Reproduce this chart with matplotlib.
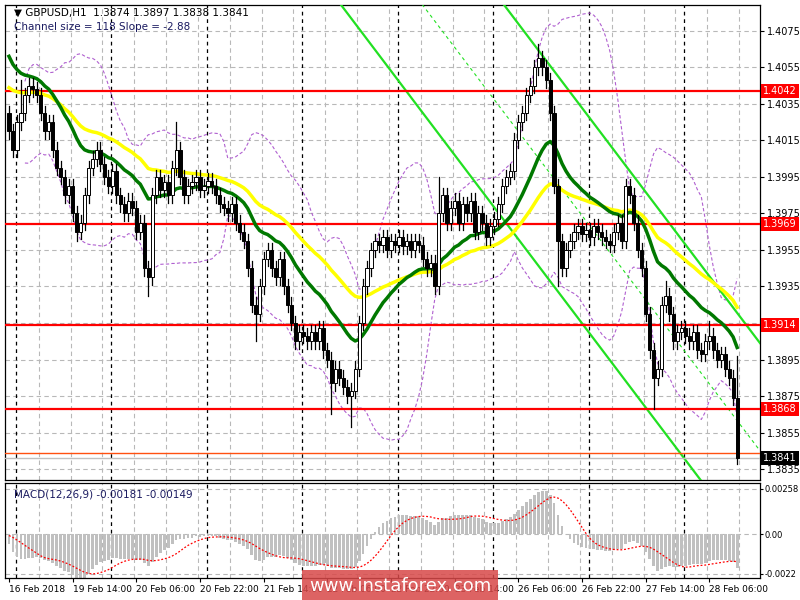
import numpy as np
import pandas as pd
import matplotlib
matplotlib.use("Agg")
import matplotlib.pyplot as plt
from matplotlib.patches import Rectangle

closes = [1.4020,1.4010,1.4025,1.4030,1.4040,1.4045,1.4043,1.4040,1.4030,1.4020,1.4025,1.4010,1.4000,1.3995,1.3985,1.3990,1.3975,1.3965,1.3970,
          1.3985,1.4000,1.4005,1.4010,1.4002,1.3995,1.3990,1.3998,1.3985,1.3980,1.3975,1.3982,1.3978,1.3965,1.3970,1.3945,
          1.3940,1.3985,1.3995,1.3988,1.3992,1.3985,1.4000,1.4010,1.3995,1.3985,1.3990,1.3992,1.3995,1.3988,1.3990,1.3993,1.3990,1.3985,1.3980,1.3978,1.3975,1.3980,1.3970,1.3965,1.3960,
          1.3945,1.3925,1.3920,1.3935,1.3950,1.3955,1.3945,1.3940,1.3950,1.3935,1.3925,1.3915,1.3905,1.3910,
          1.3908,1.3905,1.3910,1.3905,1.3912,1.3900,1.3895,1.3882,1.3890,1.3885,1.3880,1.3875,1.3878,1.3890,
          1.3915,1.3935,1.3945,1.3955,
          1.3960,1.3958,1.3962,1.3955,1.3960,1.3958,1.3962,1.3957,1.3960,1.3955,1.3960,1.3958,1.3950,1.3945,1.3948,1.3935,
          1.3975,1.3985,1.3970,1.3978,1.3982,1.3970,1.3980,1.3975,1.3982,1.3965,1.3975,1.3970,1.3962,1.3968,1.3972,1.3980,
          1.3990,1.3995,1.3998,1.4015,1.4025,1.4030,1.4040,1.4045,
          1.4055,1.4060,1.4055,1.4048,
          1.4030,1.3990,1.3960,1.3945,
          1.3955,1.3960,1.3965,1.3968,1.3964,1.3966,1.3962,1.3968,1.3965,1.3962,1.3960,1.3958,1.3965,1.3970,1.3960,
          1.3990,1.3985,1.3970,1.3955,1.3945,
          1.3920,1.3900,1.3885,1.3890,1.3925,
          1.3930,1.3920,1.3905,1.3910,
          1.3912,1.3908,1.3905,1.3910,1.3900,1.3898,1.3905,1.3908,1.3900,1.3895,1.3898,1.3890,1.3885,1.3874,
          1.3841]
first_open = 1.4030
wick = 0.0004
high_overrides = {108: 1.3995, 133: 1.4068, 165: 1.3938, 176: 1.3916, 183: 1.3897, 42: 1.4025, 3: 1.4048}
low_overrides = {35: 1.3930, 62: 1.3905, 86: 1.3858, 81: 1.3865, 138: 1.3935, 162: 1.3868, 183: 1.3838, 17: 1.3960}
levels = [1.4042, 1.3969, 1.3914, 1.3868]
price_ticks = [1.4075,1.4055,1.4035,1.4015,1.3995,1.3975,1.3955,1.3935,1.3895,1.3875,1.3855,1.3835]
date_labels = ["16 Feb 2018","19 Feb 14:00","20 Feb 06:00","20 Feb 22:00","21 Feb 14:00","22 Feb 06:00",
               "22 Feb 22:00","23 Feb 14:00","26 Feb 06:00","26 Feb 22:00","27 Feb 14:00","28 Feb 06:00"]
green_seed, yellow_seed, macd_seed = 1.4065, 1.4045, 1.4085
chan_anchor_bar, chan_anchor_price, chan_slope, chan_size = 82.5, 1.4092, -0.000288, 0.0118

n = len(closes)
x = np.arange(n)
c = np.array(closes)
o = np.concatenate([[first_open], c[:-1]])
h = np.maximum(o, c) + wick
l = np.minimum(o, c) - wick
for k, v in high_overrides.items(): h[k] = v
for k, v in low_overrides.items(): l[k] = v

s = pd.Series(c)
green = pd.Series([green_seed] + closes).ewm(span=22, adjust=False).mean().values[1:]
yellow = pd.Series([yellow_seed] + closes).ewm(span=45, adjust=False).mean().values[1:]
mid = s.rolling(20, min_periods=5).mean()
sd = s.rolling(20, min_periods=5).std()
bb_up, bb_dn = mid + 2 * sd, mid - 2 * sd
seeded = pd.Series([macd_seed] * 40 + closes)
macd_full = (seeded.ewm(span=12, adjust=False).mean() - seeded.ewm(span=26, adjust=False).mean())
sig = macd_full.rolling(9, min_periods=1).mean().values[40:]
macd = macd_full.values[40:]

FS = 7
fig = plt.figure(figsize=(8, 6), dpi=100)
fig.patch.set_facecolor("white")
ax = fig.add_axes([5/800, 120/600, 755/800, 475/600])
ax2 = fig.add_axes([5/800, 22/600, 755/800, 95/600])
xl = (-1.0, 188.75)

for a in (ax, ax2):
    a.set_xlim(*xl)
    for i in np.arange(7.5, 189, 8):
        a.axvline(i, color="#b8b8b8", ls=(0, (4, 3)), lw=0.8, zorder=0)
    for i in np.arange(1.75, 189, 24):
        a.axvline(i, color="black", ls=(0, (3, 3)), lw=0.9, zorder=0.5)
    a.yaxis.tick_right()
    a.tick_params(axis="y", labelsize=FS, length=3, pad=2)
    for sp in a.spines.values():
        sp.set_color("black"); sp.set_linewidth(0.9)
ax2.tick_params(axis="y", labelsize=6, pad=1, length=2)

ax.set_ylim(1.38290, 1.40892)
for p in price_ticks + [1.3915]:
    ax.axhline(p, color="#b8b8b8", ls=(0, (4, 3)), lw=0.8, zorder=0)
ax.set_yticks(price_ticks)
ax.set_yticklabels([f"{p:.4f}" for p in price_ticks])
ax.set_xticks([])

ax.plot(x, bb_up, color="#b060d0", ls=(0, (3, 2)), lw=0.8, zorder=2)
ax.plot(x, bb_dn, color="#b060d0", ls=(0, (3, 2)), lw=0.8, zorder=2)
cx = np.array([-1, 188.75])
low_line = chan_anchor_price + chan_slope * (cx - chan_anchor_bar)
ax.plot(cx, low_line, color="#22e022", lw=1.6, zorder=3)
ax.plot(cx, low_line + chan_size, color="#22e022", lw=1.6, zorder=3)
ax.plot(cx, low_line + chan_size / 2, color="#22e022", lw=0.8, ls=(0, (3, 3)), zorder=3)
for lv in levels:
    ax.axhline(lv, color="#ff0000", lw=1.6, zorder=4)
    ax.text(1.004, lv, f"{lv:.4f}", transform=ax.get_yaxis_transform(), va="center", ha="left",
            fontsize=FS, color="white", bbox=dict(boxstyle="square,pad=0.2", fc="#ff0000", ec="none"), zorder=10, clip_on=False)
ax.axhline(1.3844, color="#ff5010", lw=1, zorder=4)
ax.axhline(1.3841, color="#c0c0c0", lw=1, zorder=4)
ax.text(1.004, 1.3841, "1.3841", transform=ax.get_yaxis_transform(), va="center", ha="left",
        fontsize=FS, color="white", bbox=dict(boxstyle="square,pad=0.2", fc="black", ec="none"), zorder=10, clip_on=False)
ax.plot(x, yellow, color="#ffff00", lw=2.5, zorder=5)
ax.plot(x, green, color="#007800", lw=2.5, zorder=6)
for i in range(n):
    ax.plot([i, i], [l[i], h[i]], color="black", lw=0.9, zorder=7)
    bot, top = min(o[i], c[i]), max(o[i], c[i])
    ax.add_patch(Rectangle((i - 0.4, bot), 0.8, max(top - bot, 0.00005),
                           fc="white" if c[i] >= o[i] else "black", ec="black", lw=0.7, zorder=8))

ax.text(0.012, 0.995, "▼ GBPUSD,H1  1.3874 1.3897 1.3838 1.3841", transform=ax.transAxes, fontsize=7.5, va="top")
ax.text(0.012, 0.965, "Channel size = 118 Slope = -2.88", transform=ax.transAxes, fontsize=7.5, va="top", color="#1a1a60")

ax2.set_ylim(-0.00245, 0.0029)
for p in [0.00258, 0.0, -0.0022]:
    ax2.axhline(p, color="#b8b8b8", ls=(0, (4, 3)), lw=0.8, zorder=0)
ax2.bar(x, macd, width=0.7, color="#c0c0c0", zorder=2)
ax2.plot(x, sig, color="red", ls=(0, (1.5, 1.5)), lw=0.9, zorder=3)
ax2.set_yticks([0.00258, 0.0, -0.0022])
ax2.set_yticklabels(["0.00258", "0.00", "-0.0022"])
ax2.text(0.012, 0.93, "MACD(12,26,9) -0.00181 -0.00149", transform=ax2.transAxes, fontsize=7.5, va="top", color="#1a1a60")
ax2.set_xticks(np.arange(0, 16 * len(date_labels), 16))
ax2.set_xticklabels(date_labels, fontsize=6.5, ha="left")
ax2.tick_params(axis="x", length=3, pad=2)

fig.text(400/800, 14/600, "www.instaforex.com", ha="center", va="center", fontsize=13, color="white",
         bbox=dict(boxstyle="square,pad=0.4", fc="#d84848", ec="none", alpha=0.85), zorder=20)

fig.savefig("out.png", dpi=100)
